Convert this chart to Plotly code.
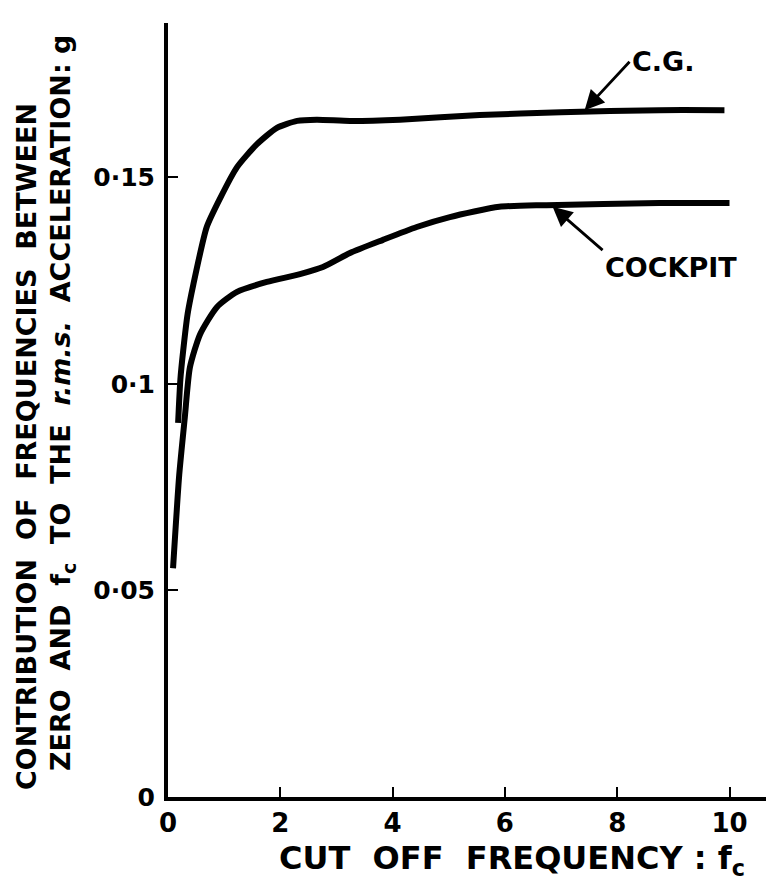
import plotly.graph_objects as go

# Data
cg_x = [0.18, 0.22, 0.27, 0.35, 0.45, 0.69, 0.93, 1.23, 1.58, 1.94, 2.3, 2.65, 3.24, 4.13, 5.55, 7.0, 8.75, 9.91]
cg_y = [0.0906, 0.101, 0.108, 0.117, 0.124, 0.138, 0.145, 0.1525, 0.158, 0.162, 0.1637, 0.164, 0.1637, 0.164, 0.1651, 0.1658, 0.1663, 0.1663]

ck_x = [0.09, 0.2, 0.3, 0.39, 0.57, 0.87, 1.23, 1.76, 2.35, 2.76, 3.24, 3.83, 4.43, 5.02, 5.9, 6.74, 8.75, 10.0]
ck_y = [0.0554, 0.078, 0.092, 0.104, 0.112, 0.1186, 0.1223, 0.1247, 0.1266, 0.1283, 0.1317, 0.1349, 0.138, 0.1404, 0.1429, 0.1433, 0.1438, 0.1438]

x_ticks = [0, 2, 4, 6, 8, 10]
x_tick_labels = ["0", "2", "4", "6", "8", "10"]
y_ticks = [0, 0.05, 0.1, 0.15]
y_tick_labels = ["0", "0·05", "0·1", "0·15"]

FONT = "DejaVu Sans"
W, H = 767, 887
L, R, T, B = 168, 1, 23, 90
pw, ph = W - L - R, H - T - B


def px_to_paper(px, py):
    return (px - L) / pw, (H - B - py) / ph


fig = go.Figure()
fig.add_trace(go.Scatter(x=cg_x, y=cg_y, mode="lines",
                         line=dict(color="black", width=6, shape="spline", smoothing=0.6),
                         showlegend=False, hoverinfo="skip"))
fig.add_trace(go.Scatter(x=ck_x, y=ck_y, mode="lines",
                         line=dict(color="black", width=6, shape="spline", smoothing=0.6),
                         showlegend=False, hoverinfo="skip"))

# labelled arrows (text sits at the arrow tail)
fig.add_annotation(x=7.42, y=0.1663, ax=8.22, ay=0.178, xref="x", yref="y", axref="x", ayref="y",
                   text="<b>C.G.</b>", xanchor="left", yanchor="middle",
                   showarrow=True, arrowhead=2, arrowsize=1.4, arrowwidth=2.8, arrowcolor="black",
                   font=dict(family=FONT, size=27, color="black"))
fig.add_annotation(x=6.85, y=0.1429, ax=7.74, ay=0.1324, xref="x", yref="y", axref="x", ayref="y",
                   text="<b>COCKPIT</b>", xanchor="left", yanchor="top",
                   showarrow=True, arrowhead=2, arrowsize=1.4, arrowwidth=2.8, arrowcolor="black",
                   font=dict(family=FONT, size=27, color="black"))

# y axis title (two rotated lines)
ax1, ay1 = px_to_paper(26, 447)
fig.add_annotation(x=ax1, y=ay1, xref="paper", yref="paper",
                   text="<b>CONTRIBUTION  OF  FREQUENCIES  BETWEEN</b>", showarrow=False, textangle=-90,
                   font=dict(family=FONT, size=27, color="black"), xanchor="center", yanchor="middle")
ax2, ay2 = px_to_paper(63, 403)
fig.add_annotation(x=ax2, y=ay2, xref="paper", yref="paper",
                   text="<b>ZERO  AND  f<sub>c</sub>  TO  THE  <i>r.m.s.</i>  ACCELERATION: g</b>", showarrow=False,
                   textangle=-90,
                   font=dict(family=FONT, size=27, color="black"), xanchor="center", yanchor="middle")

# x axis title
tx, ty = px_to_paper(512, 860)
fig.add_annotation(x=tx, y=ty, xref="paper", yref="paper",
                   text="<b>CUT  OFF  FREQUENCY : f<sub>c</sub></b>", showarrow=False,
                   font=dict(family=FONT, size=32, color="black"), xanchor="center", yanchor="middle")

fig.update_layout(
    width=W, height=H,
    margin=dict(l=L, r=R, t=T, b=B),
    paper_bgcolor="white", plot_bgcolor="white",
    font=dict(family=FONT, color="black"),
    xaxis=dict(range=[0, 10.65], tickvals=x_ticks, ticktext=["<b>%s</b>" % t for t in x_tick_labels],
               showgrid=False, zeroline=False, showline=True, linecolor="black", linewidth=4,
               ticks="inside", ticklen=10, tickwidth=2, tickcolor="black",
               tickfont=dict(family=FONT, size=26, color="black")),
    yaxis=dict(range=[0, 0.1874], tickvals=y_ticks, ticktext=["<b>%s</b>" % t for t in y_tick_labels],
               showgrid=False, zeroline=False, showline=True, linecolor="black", linewidth=4,
               ticks="inside", ticklen=10, tickwidth=2, tickcolor="black", ticklabelstandoff=4,
               tickfont=dict(family=FONT, size=25, color="black")),
)

fig.write_html("out.html", config={"displayModeBar": False},
               post_script="document.body.style.margin='0px';")
